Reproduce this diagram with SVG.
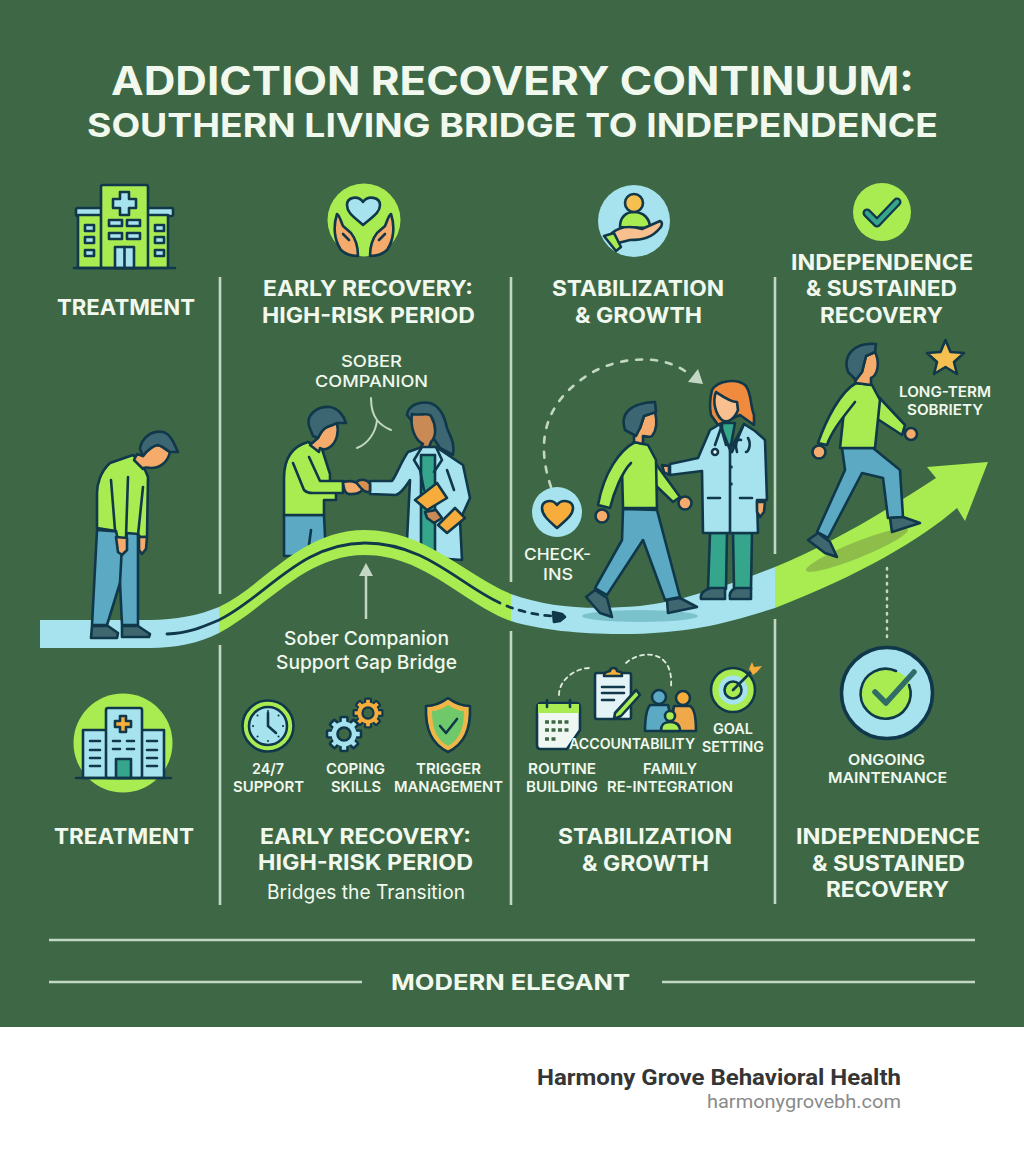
<svg xmlns="http://www.w3.org/2000/svg" xmlns:xlink="http://www.w3.org/1999/xlink" width="1024" height="1154" viewBox="0 0 1024 1154">
<style>
text{font-family:Inter,"Liberation Sans",sans-serif;fill:#f1f8ee;font-weight:600}
.t1{font-size:39px;font-weight:700}.t2{font-size:33px;font-weight:700}
.h{font-size:21.5px;font-weight:700}.s{font-size:14.800px;font-weight:600}.c{font-size:16.500px;font-weight:500}
.o{stroke:#10384a;stroke-width:2.6;stroke-linejoin:round;stroke-linecap:round}
.l{fill:none;stroke:#10384a;stroke-width:2.6;stroke-linecap:round;stroke-linejoin:round}
.gr{fill:#a8ec52}.bl{fill:#a6e3ee}.pa{fill:#5ba9c2}.sh{fill:#3f6770}.ha{fill:#3b6672}.sk{fill:#f5ab6b}.or{fill:#f6ad3c}.te{fill:#35a68c}
.div{stroke:#c3d8c4;stroke-width:2.6;fill:none}
.dash{fill:none;stroke:#c3d8c4;stroke-width:2.6;stroke-linecap:round}
</style>
<defs>
<g id="teeth"><rect x="-3.5" y="-17" width="7" height="34" rx="1"/><rect x="-3.5" y="-17" width="7" height="34" rx="1" transform="rotate(45)"/><rect x="-3.5" y="-17" width="7" height="34" rx="1" transform="rotate(90)"/><rect x="-3.5" y="-17" width="7" height="34" rx="1" transform="rotate(135)"/></g>
</defs>
<rect id="background" width="1024" height="1027" fill="#3e6845"/>
<rect id="footer-band" y="1027" width="1024" height="127" fill="#fff"/>

<g id="title">
<text class="t1" x="111" y="95" textLength="803" lengthAdjust="spacingAndGlyphs">ADDICTION RECOVERY CONTINUUM:</text>
<text class="t2" x="87" y="137" textLength="851" lengthAdjust="spacingAndGlyphs">SOUTHERN LIVING BRIDGE TO INDEPENDENCE</text>
</g>

<g id="dividers">
<path class="div" d="M220 277V594M220 645V905M511 277V582M511 631V905M775 277V554M775 619V904"/>
<path class="div" d="M49 940H975M49 982H362M662 982H975"/>
</g>

<g id="icon-hospital-top">
<rect class="o bl" x="76" y="208" width="97" height="8" rx="1.5"/>
<rect class="o gr" x="78" y="215" width="90" height="53"/>
<rect class="o gr" x="101" y="185" width="47" height="83" rx="2"/>
<path class="o" fill="#a6e3ee" d="M120 192h9v7h7v9h-7v7h-9v-7h-7v-9h7z"/>
<g class="o bl"><rect x="109" y="220" width="13" height="6"/><rect x="127" y="220" width="13" height="6"/><rect x="109" y="233" width="13" height="6"/><rect x="127" y="233" width="13" height="6"/><rect x="85" y="225" width="9" height="6"/><rect x="85" y="237" width="9" height="6"/><rect x="85" y="250" width="9" height="6"/><rect x="155" y="225" width="9" height="6"/><rect x="155" y="237" width="9" height="6"/><rect x="155" y="250" width="9" height="6"/></g>
<rect class="o bl" x="115" y="247" width="19" height="21"/><path class="l" d="M124.500 247V268"/>
<path class="l" stroke-width="3" d="M74 268H175"/>
</g>
<g id="label-treatment-top"><text class="h" x="57" y="315" textLength="138" lengthAdjust="spacingAndGlyphs">TREATMENT</text></g>

<g id="icon-hands-heart">
<circle class="gr" cx="364" cy="220" r="36.500"/>
<path class="o bl" d="M363 225C354 217 347 213 347 205C347 197 358 195 363 202C368 195 380 197 380 205C380 213 372 217 363 225Z"/>
<path class="o sk" d="M337 214C340 216 341 222 343 226L351 233C355 238 358 246 358 256C350 256 345 254 341 250C334 240 333 226 337 214Z"/>
<path class="o sk" d="M391 214C388 216 387 222 385 226L377 233C373 238 370 246 370 256C378 256 383 254 387 250C394 240 395 226 391 214Z"/>
<path class="l" stroke-width="1.800" d="M343 234L349 240M385 234L379 240"/>
</g>
<g id="label-early-top">
<text class="h" x="263" y="296" textLength="210" lengthAdjust="spacingAndGlyphs">EARLY RECOVERY:</text>
<text class="h" x="262" y="323" textLength="213" lengthAdjust="spacingAndGlyphs">HIGH-RISK PERIOD</text>
</g>
<g id="icon-hand-person">
<circle class="bl" cx="634" cy="221" r="36"/>
<path class="o gr" d="M620 227C620 217 626 212 634 212C643 212 650 218 650 228Z"/>
<circle class="o" fill="#f5c04f" cx="634" cy="203" r="9"/>
<path class="o" fill="#f7c08e" d="M612 233C620 226 632 226 642 229L660 221C663 222 662 226 660 228C652 238 642 240 630 240L618 243Z"/>
<path class="o gr" d="M604 236L614 233L621 247L616 251Z"/>
</g>
<g id="label-stabilization-top">
<text class="h" x="552" y="296" textLength="172" lengthAdjust="spacingAndGlyphs">STABILIZATION</text>
<text class="h" x="575" y="323" textLength="127" lengthAdjust="spacingAndGlyphs">&amp; GROWTH</text>
</g>
<g id="icon-check-top">
<circle class="gr" cx="882" cy="212" r="29"/>
<path fill="none" stroke="#10384a" stroke-width="9" stroke-linecap="round" stroke-linejoin="round" d="M867 213L877 223L897 202"/>
<path fill="none" stroke="#35a68c" stroke-width="4.500" stroke-linecap="round" stroke-linejoin="round" d="M867 213L877 223L897 202"/>
</g>
<g id="label-independence-top">
<text class="h" x="791" y="270" textLength="182" lengthAdjust="spacingAndGlyphs">INDEPENDENCE</text>
<text class="h" x="806" y="296" textLength="151" lengthAdjust="spacingAndGlyphs">&amp; SUSTAINED</text>
<text class="h" x="820" y="323" textLength="123" lengthAdjust="spacingAndGlyphs">RECOVERY</text>
</g>

<g id="sober-companion-callout">
<text class="c" x="341" y="367" textLength="61" lengthAdjust="spacingAndGlyphs">SOBER</text>
<text class="c" x="315" y="387" textLength="113" lengthAdjust="spacingAndGlyphs">COMPANION</text>
<path fill="none" stroke="#c3d8c4" stroke-width="2" stroke-linecap="round" d="M371 398C371 408 373 415 377 420C376 432 368 444 357 448M377 420C381 425 386 428 391 430"/>
</g>

<g id="person-early">
<path class="o pa" d="M284 515H324L326 556H284Z"/>
<path class="l" d="M311 530L309 545"/>
<path class="o gr" d="M308 442C294 446 284 456 284 478V515H324V500H336V492H330V474L322 449Z"/>
<path class="o gr" d="M293 463L304 490C306 492 308 493 312 493H343V481H320L309 457"/>
<path class="o sk" d="M318 438C320 434 322 429 327 427L337 423C339 432 337 442 330 447C326 450 323 450 320 448L319 452L310 445Z"/>
<path class="o ha" d="M309 426C306 414 318 406 330 407C338 408 344 416 346 423L337 423C333 425 330 426 327 427C322 429 320 434 318 438L313 436Z"/>
<path class="o sk" d="M343 482C350 480 356 481 362 486C364 491 359 494 352 494C346 495 344 492 343 482Z"/>
</g>
<g id="person-doctor-early">
<path class="o ha" d="M407 415C408 405 420 401 430 403C440 406 445 418 447 428C450 436 455 442 453 455L440 448L428 430L415 425Z"/>
<path class="o" fill="#c98a55" d="M412 414C420 416 428 412 431 416C436 425 437 436 431 442L428 450L420 448L423 444C415 440 410 428 412 414Z"/>
<path class="o bl" d="M422 447L408 452C402 460 396 476 392 481L370 481V494L396 495C402 493 406 486 410 480L407 540V556L462 560L460 520L470 498L463 465L436 447Z"/>
<rect class="o te" x="421" y="455" width="14" height="96"/>
<path class="l" d="M422 447L414 460L420 470L424 490M436 447L442 460L434 472"/>
<path class="l" d="M447 470L454 490"/>
<path class="o or" d="M415 500L437 483L447 498L427 510Z"/>
<path class="o or" d="M438 525L455 508L465 518L447 533Z"/>
<path class="o" fill="#c98a55" d="M425 512L436 510L442 518L434 523L427 518Z"/>
<path class="o" fill="#d9904f" d="M356 482C362 478 368 480 370 484V491C366 494 362 490 356 482Z"/>
</g>

<g id="connectors">
<g id="ribbon">
<path class="bl" d="M40 620H150C175 620 200 615 219 607V633C200 643 175 648 150 648H40Z"/>
<path class="gr" d="M219 607C265 585 300 530 365 530C425 530 465 575 511 594V621C465 605 425 555 365 555C305 555 270 605 219 633Z"/>
<path class="bl" d="M511 594C550 608 590 610 640 606C680 602 730 585 775 567V608C730 622 690 634 620 634C580 634 540 630 511 621Z"/>
<path class="gr" d="M775 567C830 545 890 508 936 478L927 467L988 462L965 521L957 508C920 540 860 575 775 608Z"/>
</g>
<path id="bridge-line" fill="none" stroke="#10384a" stroke-width="2.800" stroke-linecap="round" d="M167 634C190 633 205 626 219 620C265 598 300 543 365 543C425 543 460 585 500 603"/>
<path id="bridge-dash" fill="none" stroke="#10384a" stroke-width="2.800" stroke-linecap="round" stroke-dasharray="6 7" d="M507 606C520 611 535 615 552 616"/>
<path id="bridge-head" fill="#10384a" class="o" d="M553 612L562 614L565 617L560 621L554 622Z"/>
<path id="gap-arrow" fill="none" stroke="#c3d8c4" stroke-width="2.500" d="M366 619V574"/>
<path id="gap-arrow-head" fill="#c3d8c4" d="M366 563L373 576H359Z"/>
<path id="checkin-arc" class="dash" stroke-dasharray="6 9" d="M551 487C535 440 545 400 593 372C620 357 660 354 685 371"/>
<path id="checkin-arrow-head" fill="#c3d8c4" d="M703 384L688 382L698 369Z"/>
<path id="maintenance-link" fill="none" stroke="#c3d8c4" stroke-width="2.500" stroke-linecap="round" stroke-dasharray="1.500 6" d="M887 568V640"/>
<path id="routine-arc" fill="none" stroke="#dfeadd" stroke-width="1.800" stroke-linecap="round" stroke-dasharray="4 4" d="M559 695C559 680 575 668 590 668"/>
<path id="family-arc" fill="none" stroke="#dfeadd" stroke-width="1.800" stroke-linecap="round" stroke-dasharray="4 4" d="M626 663C640 650 674 648 671 687"/>
</g>

<g id="person-treatment">
<path class="o pa" d="M97 530L138 533V625H122L120 583L107 625H92Z"/>
<path class="l" d="M120 583L122 545"/>
<path class="o gr" d="M133 455L110 463C100 472 97 485 97 493V528L116 531L118 540H126L127 533L138 534L140 537L147 537L148 477L143 465Z"/>
<path class="l" d="M111 480L115 530M128 477L126 537M143 487L138 535"/>
<path class="o sk" d="M116 537L127 538L127 550L122 555L118 552Z"/>
<path class="o sk" d="M139 537L147 537L146 549L142 554L139 550Z"/>
<path class="o sk" d="M143 456C146 452 152 446 158 445C163 446 166 450 170 452C168 462 160 468 151 468C146 468 144 466 143 469L134 460L137 454Z"/>
<path class="o ha" d="M140 449C141 438 152 430 163 432C171 434 174 444 178 452L170 452C166 450 163 446 158 445C152 446 146 452 143 456Z"/>
<path class="o sh" d="M92 626H108L118 633L117 638H91Z"/>
<path class="o sh" d="M122 626H138L150 634L149 637H122Z"/>
</g>

<g id="person-walking-stabilization">
<ellipse cx="640" cy="616" rx="58" ry="6" fill="#7cc2cc"/>
<path class="o pa" d="M623 509L622 540L595 588L607 595L643 540L665 600L680 597L657 510Z"/>
<path class="o sh" d="M586 597L595 590L607 598L612 617L600 613Z"/>
<path class="o sh" d="M667 600L680 598L697 607L668 613Z"/>
<path class="o gr" d="M653 460L680 497L673 502L650 480Z"/>
<circle class="o sk" cx="685" cy="503" r="6.500"/>
<path class="o gr" d="M635 442L648 445L656 460L657 508H623L622 470L625 452Z"/>
<path class="o gr" d="M635 442C620 450 604 472 598 505L610 508C614 492 622 472 631 463"/>
<circle class="o sk" cx="602" cy="516" r="6.500"/>
<path class="o sk" d="M634 436L640 428L644 416L655 412C657 420 657 430 652 436C649 438 645 436 643 436V444L634 442Z"/>
<path class="o ha" d="M625 430C620 415 628 403 655 402L656 412L644 416L640 428L636 436Z"/>
</g>
<g id="person-doctor-stabilization">
<path class="o te" d="M710 533L708 589H726L727 533ZM733 533L734 589H751L752 533Z"/>
<path class="o sh" d="M711 588H725V599H701C700 594 704 590 711 588Z"/>
<path class="o sh" d="M736 588H751V599H730C729 594 731 590 736 588Z"/>
<path class="o" fill="#f08a3c" d="M712 390C718 380 738 378 746 386C752 395 750 405 754 415L754 425L740 415L718 425L711 415C709 405 710 398 712 390Z"/>
<path class="o" fill="#f7c08e" d="M716 392C722 396 730 402 737 402L738 410C735 418 728 424 722 420C716 415 712 402 716 392Z"/>
<path class="o te" d="M722 423H735L731 445L722 445Z"/>
<path class="o bl" d="M720 424L710 430L698 458L670 464V475L702 471L703 533L758 533L757 500H767L765 440L755 431L744 424L730 450Z"/>
<path class="l" d="M730 450V533M720 424L726 445M744 424L732 452M708 498H720M740 498H752"/>
<path class="l" d="M722 425L715 445M741 440C736 438 735 445 737 452M748 438C752 445 748 452 746 452"/>
<circle class="o" fill="#fff" cx="715" cy="452" r="3"/>
<circle cx="731" cy="467" r="1.800" fill="#10384a"/><circle cx="731" cy="484" r="1.800" fill="#10384a"/>
<path class="o sk" d="M757 502L765 502L764 512L760 517L757 512Z"/>
<path class="o sk" d="M662 465L669 466L669 475L664 472Z"/>
</g>
<g id="person-walking-independence">
<ellipse cx="857" cy="550" rx="55" ry="8" fill="#8fbd4a" transform="rotate(-22 857 550)"/>
<path class="o pa" d="M842 448L845 470L817 532L828 538L862 473L883 478L888 518L903 517L900 470L873 448Z"/>
<path class="o sh" d="M808 540L818 533L830 542L837 557L825 553Z"/>
<path class="o sh" d="M890 518L903 517L920 523L892 532Z"/>
<path class="o gr" d="M875 393L905 425L902 435L876 418Z"/>
<circle class="o sk" cx="911" cy="434" r="6"/>
<path class="o gr" d="M856 383L872 385L880 400L875 448H840L843 420L846 395Z"/>
<path class="o gr" d="M856 383C840 392 826 420 818 443L827 445C832 430 845 415 855 402"/>
<circle class="o sk" cx="819" cy="452" r="6.500"/>
<path class="o sk" d="M855 380L862 372L866 356L875 352C880 362 878 375 871 378V385L856 383Z"/>
<path class="o ha" d="M848 372C842 355 855 342 876 344L875 352L866 356L862 372L856 380Z"/>
</g>
<g id="callout-long-term">
<path class="o" fill="#f5c04f" d="M945.500 340L950.500 352L964 353L954 362L957 374L945.500 367L934 374L937 362L927 353L940.500 352Z"/>
<text class="s" x="899" y="397" textLength="92" lengthAdjust="spacingAndGlyphs">LONG-TERM</text>
<text class="s" x="907" y="415" textLength="76" lengthAdjust="spacingAndGlyphs">SOBRIETY</text>
</g>
<g id="callout-checkins">
<circle class="bl" cx="557" cy="512" r="25"/>
<path class="o or" d="M557 528C548 520 542 515 542 508C542 501 552 498 557 505C562 498 573 501 573 508C573 515 566 520 557 528Z"/>
<text class="c" x="524" y="560" textLength="67" lengthAdjust="spacingAndGlyphs">CHECK-</text>
<text class="c" x="543" y="580" textLength="30" lengthAdjust="spacingAndGlyphs">INS</text>
</g>
<g id="label-gap">
<text x="284" y="645" font-size="19" textLength="165" lengthAdjust="spacingAndGlyphs" style="font-weight:500">Sober Companion</text>
<text x="276" y="669" font-size="19" textLength="181" lengthAdjust="spacingAndGlyphs" style="font-weight:500">Support Gap Bridge</text>
</g>

<g id="icon-hospital-bottom">
<circle class="gr" cx="123" cy="743" r="49.500"/>
<rect class="o bl" x="83" y="730" width="81" height="48"/>
<rect class="o bl" x="106" y="708" width="36" height="70" rx="2"/>
<path class="o or" d="M120 716h6v5h5v6h-5v5h-6v-5h-5v-6h5z" stroke-width="2"/>
<path class="l" stroke-width="2" d="M90 741H100M90 750H100M90 758H100M90 766H100M147 741H157M147 750H157M147 758H157M147 766H157M113 741H120M127 741H134M113 749H120M127 749H134"/>
<rect class="o te" x="116" y="759" width="15" height="19"/>
<path class="l" d="M76 778H171"/>
</g>
<g id="label-treatment-bottom"><text class="h" x="54" y="844" textLength="140" lengthAdjust="spacingAndGlyphs">TREATMENT</text></g>

<g id="item-support">
<circle class="o gr" cx="268" cy="726" r="25.500"/>
<circle class="o bl" cx="268" cy="726" r="19"/>
<path class="l" d="M268 713V726L276 733"/>
<path fill="none" stroke="#10384a" stroke-width="2" stroke-linecap="round" d="M268 711V711.100M268 741V741.100M253 726H253.100M283 726H283.100M257.500 715.500H257.600M278.500 715.500H278.600M257.500 736.500H257.600M278.500 736.500H278.600"/>
<text class="s" x="252" y="774" textLength="32" lengthAdjust="spacingAndGlyphs">24/7</text>
<text class="s" x="233" y="792" textLength="71" lengthAdjust="spacingAndGlyphs">SUPPORT</text>
</g>
<g id="item-coping">
<g transform="translate(344 734)"><use class="o" fill="#a6e3ee" xlink:href="#teeth"/><circle r="12.500" class="bl"/><circle r="6.500" fill="#3e6845" class="o"/></g>
<g transform="translate(368 713) scale(.85)"><use class="o" fill="#f6ad3c" xlink:href="#teeth"/><circle r="12.500" class="or"/><circle r="6.500" fill="#3e6845" class="o"/></g>
<text class="s" x="326" y="774" textLength="59" lengthAdjust="spacingAndGlyphs">COPING</text>
<text class="s" x="331" y="792" textLength="50" lengthAdjust="spacingAndGlyphs">SKILLS</text>
</g>
<g id="item-trigger">
<path class="o" fill="#f0b648" d="M448 698C440 704 432 706 426 706C425 730 432 744 448 752C464 744 471 730 470 706C464 706 456 704 448 698Z"/>
<path fill="#6fc96a" d="M448 705C442 709 437 711 432 711C432 729 437 740 448 746C459 740 464 729 464 711C459 711 454 709 448 705Z"/>
<path class="l" stroke-width="3" d="M440 726L446 733L457 719"/>
<text class="s" x="416" y="774" textLength="65" lengthAdjust="spacingAndGlyphs">TRIGGER</text>
<text class="s" x="394" y="792" textLength="109" lengthAdjust="spacingAndGlyphs">MANAGEMENT</text>
</g>
<g id="label-early-bottom">
<text class="h" x="260" y="844" textLength="211" lengthAdjust="spacingAndGlyphs">EARLY RECOVERY:</text>
<text class="h" x="258" y="870" textLength="215" lengthAdjust="spacingAndGlyphs">HIGH-RISK PERIOD</text>
<text x="267" y="899" font-size="20" textLength="198" lengthAdjust="spacingAndGlyphs" style="font-weight:400">Bridges the Transition</text>
</g>

<g id="item-routine">
<path class="o" fill="#eef7f2" d="M537 707C537 705 539 703 541 703H576C579 703 580 705 580 707V730L567 749H540C538 749 537 747 537 745Z"/>
<path class="gr" d="M538 704H579V713H538Z"/>
<path class="l" d="M547 700V707M570 700V707"/>
<path stroke="#3e6845" stroke-width="3.500" stroke-dasharray="4 2.500" fill="none" d="M545 722H571M545 730H571M545 739H558"/>
<text class="s" x="528" y="774" textLength="68" lengthAdjust="spacingAndGlyphs">ROUTINE</text>
<text class="s" x="526" y="792" textLength="72" lengthAdjust="spacingAndGlyphs">BUILDING</text>
</g>
<g id="item-accountability">
<rect class="o" fill="#e4f3f5" x="595" y="673" width="36" height="46" rx="2"/>
<path class="o or" d="M604 676C604 671 608 672 610 671C610 667 617 667 617 671C620 672 622 671 622 676Z" stroke-width="2"/>
<path class="l" stroke-width="2" d="M602 687H624M602 693H624M602 700H614"/>
<path class="o gr" d="M615 713L636 690L637 691L640 695L621 716L614 719Z" stroke-width="2"/>
<text class="s" x="569" y="749" textLength="126" lengthAdjust="spacingAndGlyphs">ACCOUNTABILITY</text>
</g>
<g id="item-family">
<path class="o" fill="#f0a94a" d="M674 706H690C694 708 696 716 696 731H670Z"/>
<circle class="o or" cx="683" cy="698" r="7"/>
<path class="o pa" d="M650 705H668L674 731H645C645 718 646 710 650 705Z"/>
<circle class="o pa" cx="659" cy="697" r="7"/>
<path class="o gr" d="M661 731C661 724 664 722 670 722C676 722 680 724 680 731Z" stroke-width="2"/>
<circle class="o gr" cx="670" cy="716" r="5" stroke-width="2"/>
<text class="s" x="643" y="774" textLength="54" lengthAdjust="spacingAndGlyphs">FAMILY</text>
<text class="s" x="607" y="792" textLength="126" lengthAdjust="spacingAndGlyphs">RE-INTEGRATION</text>
</g>
<g id="item-goal">
<circle class="o gr" cx="733" cy="690" r="22"/>
<circle class="bl" cx="733" cy="690" r="14.500"/>
<circle class="o gr" cx="733" cy="690" r="8.500" stroke-width="2"/>
<path class="l" d="M733 690L752 671"/>
<path class="or" d="M749 669L752 662L754 667L762 666L757 672L753 675Z"/>
<text class="s" x="713" y="734" textLength="40" lengthAdjust="spacingAndGlyphs">GOAL</text>
<text class="s" x="702" y="752" textLength="62" lengthAdjust="spacingAndGlyphs">SETTING</text>
</g>
<g id="label-stabilization-bottom">
<text class="h" x="558" y="844" textLength="174" lengthAdjust="spacingAndGlyphs">STABILIZATION</text>
<text class="h" x="582" y="871" textLength="127" lengthAdjust="spacingAndGlyphs">&amp; GROWTH</text>
</g>
<g id="item-maintenance">
<circle class="bl" cx="887" cy="693" r="45.500" stroke="#10384a" stroke-width="3.500"/>
<path class="gr" d="M887 669A25 25 0 1 1 886.900 669Z"/>
<path class="l" d="M909 685A25 25 0 1 1 896 671"/>
<path fill="none" stroke="#2f6d66" stroke-width="5.500" stroke-linecap="round" stroke-linejoin="round" d="M875 692L886 703L914 672"/>
<text class="s" x="848" y="765" textLength="77" lengthAdjust="spacingAndGlyphs">ONGOING</text>
<text class="s" x="828" y="783" textLength="119" lengthAdjust="spacingAndGlyphs">MAINTENANCE</text>
</g>
<g id="label-independence-bottom">
<text class="h" x="796" y="844" textLength="184" lengthAdjust="spacingAndGlyphs">INDEPENDENCE</text>
<text class="h" x="812" y="871" textLength="153" lengthAdjust="spacingAndGlyphs">&amp; SUSTAINED</text>
<text class="h" x="826" y="897" textLength="123" lengthAdjust="spacingAndGlyphs">RECOVERY</text>
</g>

<g id="tagline"><text class="h" x="391" y="990" textLength="239" lengthAdjust="spacingAndGlyphs">MODERN ELEGANT</text></g>
<g id="footer">
<text x="537" y="1085" font-size="22.500" textLength="364" lengthAdjust="spacingAndGlyphs" style="font-family:Roboto,'Liberation Sans',sans-serif;font-weight:700;fill:#353535">Harmony Grove Behavioral Health</text>
<text x="707" y="1108" font-size="18" textLength="194" lengthAdjust="spacingAndGlyphs" style="font-family:Roboto,'Liberation Sans',sans-serif;font-weight:400;fill:#8a8a8a">harmonygrovebh.com</text>
</g>
</svg>
